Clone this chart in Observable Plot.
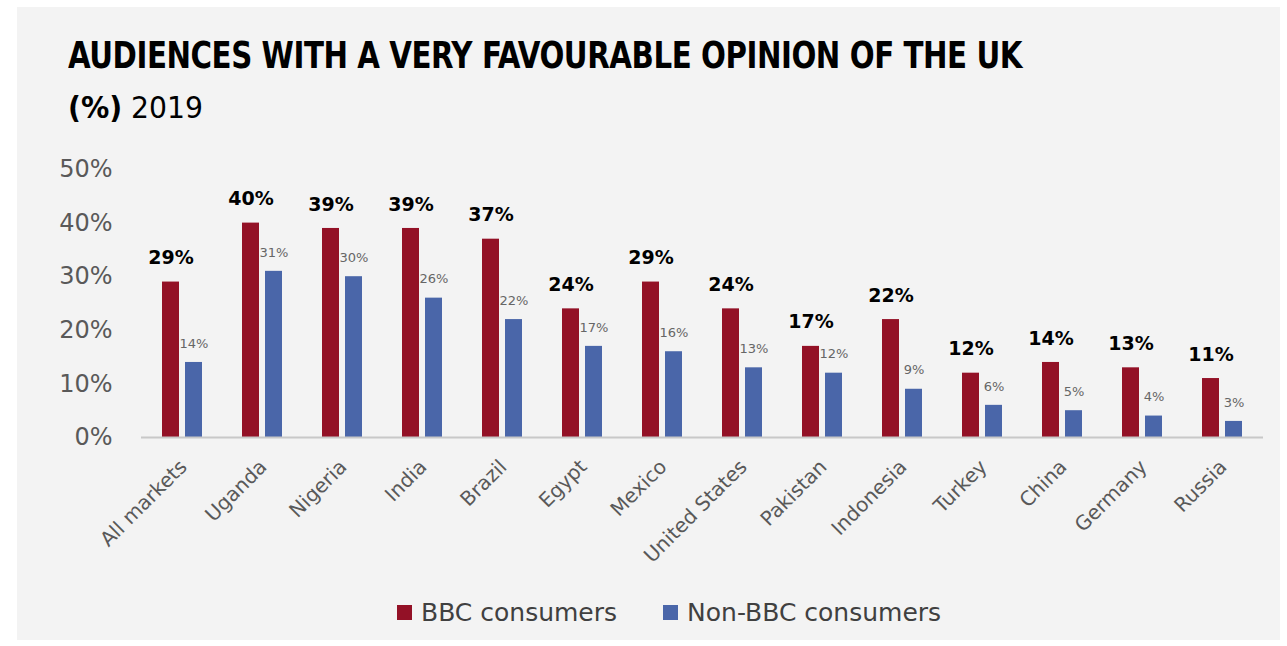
<!DOCTYPE html>
<html>
<head>
<meta charset="utf-8">
<script src="https://cdn.jsdelivr.net/npm/d3@7"></script>
<script src="https://cdn.jsdelivr.net/npm/@observablehq/plot@0.6"></script>
<style>
  html, body { margin: 0; padding: 0; background: #ffffff; }
  #page { position: relative; width: 1287px; height: 646px; overflow: hidden; }
  #panel { position: absolute; left: 17px; top: 7px; width: 1263px; height: 633px; background: #f3f3f3; }
  #title { position: absolute; left: 68px; top: 36px; font-family: "DejaVu Sans Condensed", "DejaVu Sans", sans-serif; font-weight: bold; font-size: 38px; color: #000; white-space: nowrap; transform-origin: 0 0; line-height: 1; letter-spacing: -0.5px; }
  #subtitle { position: absolute; left: 68px; top: 93px; font-family: "DejaVu Sans Condensed", "DejaVu Sans", sans-serif; font-size: 30px; color: #000; white-space: nowrap; line-height: 1; transform-origin: 0 0; }
  #chart { position: absolute; left: 0; top: 150px; }
  #legend { position: absolute; top: 598px; left: 397px; font-family: "DejaVu Sans", sans-serif; font-size: 25px; color: #404040; white-space: nowrap; display: flex; align-items: center; }
  .sw { display: inline-block; width: 15px; height: 15px; margin-right: 9px; }
  .item { display: inline-flex; align-items: center; margin-right: 46px; }
</style>
</head>
<body>
<div id="page">
  <div id="panel"></div>
  <div id="title">AUDIENCES WITH A VERY FAVOURABLE OPINION OF THE UK</div>
  <div id="subtitle"><b>(%)</b> 2019</div>
  <div id="chart"></div>
  <div id="legend"></div>
</div>
<script>
const countries = ["All markets","Uganda","Nigeria","India","Brazil","Egypt","Mexico","United States","Pakistan","Indonesia","Turkey","China","Germany","Russia"];
const bbcValues = [29,40,39,39,37,24,29,24,17,22,12,14,13,11];
const nonBbcValues = [14,31,30,26,22,17,16,13,12,9,6,5,4,3];
const seriesNames = ["BBC consumers","Non-BBC consumers"];
const seriesColors = ["#931126","#4a66a9"];
const yTicks = [0,10,20,30,40,50];

const bbc = countries.map((c, i) => ({country: c, value: bbcValues[i]}));
const nonBbc = countries.map((c, i) => ({country: c, value: nonBbcValues[i]}));

const chart = Plot.plot({
  width: 1287,
  height: 440,
  marginLeft: 141,
  marginRight: 24,
  marginTop: 19,
  marginBottom: 153,
  style: {background: "transparent", fontFamily: "DejaVu Sans, sans-serif"},
  x: {domain: countries, padding: 0, label: null},
  y: {domain: [0, 50], label: null},
  marks: [
    Plot.axisY({ticks: yTicks, tickSize: 0, tickPadding: 29, tickFormat: d => d + "%", fontSize: 24, fill: "#595959", label: null}),
    Plot.axisX({tickSize: 0, tickPadding: 26, tickRotate: -45, fontSize: 20, fill: "#595959", label: null, dx: 1}),
    Plot.text(nonBbc, {x: "country", y: "value", text: d => d.value + "%", dx: 11.5, dy: -19, fontSize: 13, fill: "#666666"}),
    Plot.barY(bbc, {x: "country", y: "value", fill: seriesColors[0], insetLeft: 20, insetRight: 43}),
    Plot.barY(nonBbc, {x: "country", y: "value", fill: seriesColors[1], insetLeft: 43, insetRight: 20}),
    Plot.ruleY([0], {stroke: "#c8c8c8", strokeWidth: 2}),
    Plot.text(bbc, {x: "country", y: "value", text: d => d.value + "%", dx: -11.5, dy: -24, fontSize: 19, fontWeight: "bold", fill: "#000000"})
  ]
});
document.getElementById("chart").appendChild(chart);

// legend
const legend = document.getElementById("legend");
seriesNames.forEach((name, i) => {
  const item = document.createElement("span");
  item.className = "item";
  const sw = document.createElement("span");
  sw.className = "sw";
  sw.style.background = seriesColors[i];
  item.appendChild(sw);
  item.appendChild(document.createTextNode(name));
  legend.appendChild(item);
});

// fit the condensed title to its width
const title = document.getElementById("title");
const tw = title.getBoundingClientRect().width;
title.style.transform = `scaleX(${954 / tw})`;
const sub = document.getElementById("subtitle");
const sw2 = sub.getBoundingClientRect().width;
sub.style.transform = `scaleX(${135 / sw2})`;
</script>
</body>
</html>
